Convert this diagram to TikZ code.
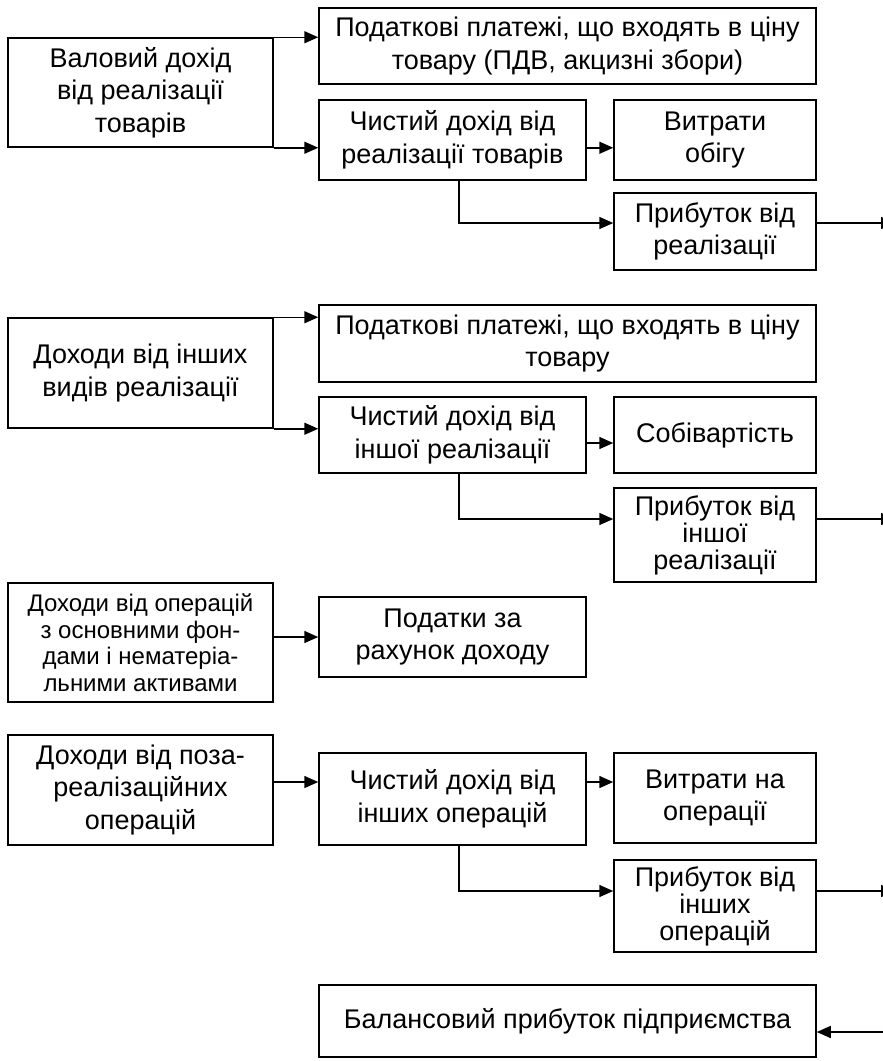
\documentclass[tikz,border=0pt]{standalone}
\usepackage{fontspec}
\setmainfont{Liberation Sans}
\usetikzlibrary{arrows.meta, positioning, calc}

\tikzset{
  blk/.style={draw, line width=1.5pt, align=center, inner sep=2pt,
              font=\fontsize{27}{32.5}\selectfont},
  tight/.style={font=\fontsize{27}{27}\selectfont},
  arr/.style={line width=1.5pt, -{Triangle[length=14pt,width=12pt]}},
  ln/.style={line width=1.5pt}
}

\begin{document}
\begin{tikzpicture}[x=1pt,y=-1pt]
  \clip (0,0) rectangle (883,1061);
  % Реалізація товарів
  \node[blk, minimum width=265pt, minimum height=109pt] (gross) at (140.5,92.5) {Валовий дохід\\від реалізації\\товарів};
  \node[blk, minimum width=497pt, minimum height=76pt] (tax1) at (567.5,46) {Податкові платежі, що входять в ціну\\товару (ПДВ, акцизні збори)};
  \node[blk, minimum width=267pt, minimum height=80pt] (net1) at (452.5,140) {Чистий дохід від\\реалізації товарів};
  \node[blk, minimum width=202pt, minimum height=80pt] (cost1) at (715,140) {Витрати\\обігу};
  \node[blk, minimum width=202pt, minimum height=77pt] (profit1) at (715,231.5) {Прибуток від\\реалізації};
  \coordinate (out1) at (895,223);
  \draw[arr] (gross.north east) -- (gross.north east -| tax1.west);
  \draw[arr] (gross.south east) -- (gross.south east -| net1.west);
  \draw[arr] (net1.east |- gross.south) -- (cost1.west |- gross.south);
  \draw[arr] ([xshift=6.5pt]net1.south) |- (profit1.west |- out1);
  \draw[arr] (profit1.east |- out1) -- (out1);
  % Інша реалізація
  \node[blk, minimum width=265pt, minimum height=110pt] (other) at (140.5,373) {Доходи від інших\\видів реалізації};
  \node[blk, minimum width=497pt, minimum height=77pt] (tax2) at (567.5,343.5) {Податкові платежі, що входять в ціну\\товару};
  \node[blk, minimum width=267pt, minimum height=76pt] (net2) at (452.5,435) {Чистий дохід від\\іншої реалізації};
  \node[blk, minimum width=202pt, minimum height=76pt] (cost2) at (715,435) {Собівартість};
  \node[blk, tight, minimum width=202pt, minimum height=94pt] (profit2) at (715,535) {Прибуток від\\іншої\\реалізації};
  \coordinate (out2) at (895,519);
  \draw[arr] (other.north east) -- (other.north east -| tax2.west);
  \draw[arr] (other.south east) -- (other.south east -| net2.west);
  \draw[arr] ([yshift=-8pt]net2.east) -- ([yshift=-8pt]net2.east -| cost2.west);
  \draw[arr] ([xshift=6.5pt]net2.south) |- (profit2.west |- out2);
  \draw[arr] (profit2.east |- out2) -- (out2);
  % Основні фонди
  \node[blk, minimum width=265pt, minimum height=119pt, font=\fontsize{24}{26.5}\selectfont] (assets) at (140.5,642.5) {Доходи від операцій\\з основними фон-\\дами і нематеріа-\\льними активами};
  \node[blk, minimum width=267pt, minimum height=80pt] (taxinc) at (452.5,637) {Податки за\\рахунок доходу};
  \draw[arr] (assets.east |- taxinc.west) -- (taxinc.west);
  % Позареалізаційні операції
  \node[blk, minimum width=265pt, minimum height=110pt] (nonop) at (140.5,790) {Доходи від поза-\\реалізаційних\\операцій};
  \node[blk, minimum width=267pt, minimum height=92pt] (net3) at (452.5,799) {Чистий дохід від\\інших операцій};
  \node[blk, minimum width=202pt, minimum height=90pt] (cost3) at (715,798) {Витрати на\\операції};
  \node[blk, tight, minimum width=202pt, minimum height=92pt] (profit3) at (715,906) {Прибуток від\\інших\\операцій};
  \coordinate (out3) at (895,891);
  \coordinate (in3) at (895,1032);
  \draw[arr] ([yshift=8pt]nonop.east) -- ([yshift=8pt]nonop.east -| net3.west);
  \draw[arr] ([yshift=8pt]nonop.east -| net3.east) -- ([yshift=8pt]nonop.east -| cost3.west);
  \draw[arr] ([xshift=6.5pt]net3.south) |- (profit3.west |- out3);
  \draw[arr] (profit3.east |- out3) -- (out3);
  % Підсумок
  \node[blk, minimum width=497pt, minimum height=72pt] (balance) at (567.5,1021) {Балансовий прибуток підприємства};
  \draw[arr] (in3) -- (in3 -| balance.east);
\end{tikzpicture}
\end{document}
